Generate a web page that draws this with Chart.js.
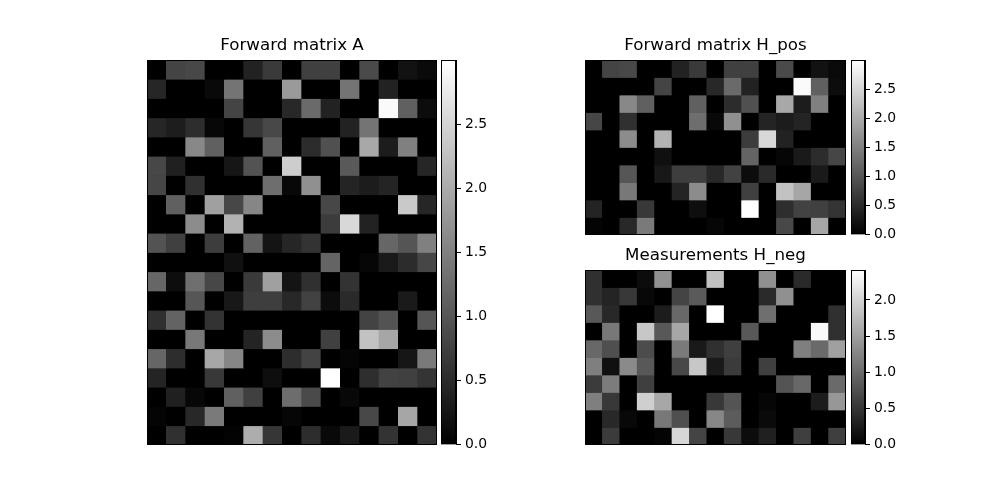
<!DOCTYPE html>
<html>
<head>
<meta charset="utf-8">
<script src="https://cdn.jsdelivr.net/npm/chart.js@4.4.1/dist/chart.umd.min.js"></script>
<style>
  body { margin: 0; background: #fff; }
  #page { position: relative; width: 1000px; height: 500px; }
  .box { position: absolute; }
</style>
</head>
<body>
<div id="page">
  <div class="box" style="left:147px;top:36px;width:290px;height:409px"><canvas id="map-a"></canvas></div>
  <div class="box" style="left:441px;top:48px;width:60px;height:409px"><canvas id="cb-a"></canvas></div>
  <div class="box" style="left:585px;top:36px;width:261px;height:199px"><canvas id="map-pos"></canvas></div>
  <div class="box" style="left:851px;top:48px;width:59px;height:199px"><canvas id="cb-pos"></canvas></div>
  <div class="box" style="left:585px;top:246px;width:261px;height:199px"><canvas id="map-neg"></canvas></div>
  <div class="box" style="left:851px;top:258px;width:59px;height:199px"><canvas id="cb-neg"></canvas></div>
</div>
<script>
const FONT = "'DejaVu Sans', sans-serif";

const cols = [0, 1, 2, 3, 4, 5, 6, 7, 8, 9, 10, 11, 12, 13, 14];

// rows of H_pos (every other row of A, starting at 0)
const hPos = [
  [0, 0.80, 0.85, 0, 0, 0.40, 0.68, 0, 0.75, 0.75, 0, 0.87, 0, 0.21, 0.12],
  [0, 0, 0, 0, 0.80, 0, 0, 0.47, 1.25, 0.40, 0, 0, 2.94, 1.13, 0.14],
  [0, 0, 1.60, 1.13, 0, 0, 1.13, 0, 0.52, 0.94, 0, 1.98, 0.33, 1.51, 0],
  [0.82, 0, 0.56, 0, 0, 0, 1.29, 0.09, 1.69, 0, 0.42, 0.33, 0.42, 0, 0],
  [0, 0, 1.65, 0, 2.09, 0, 0, 0, 0, 0.70, 2.54, 0.40, 0, 0, 0],
  [0, 0, 0, 0, 0.19, 0, 0, 0, 0, 1.18, 0, 0.07, 0.30, 0.52, 0.82],
  [0, 0, 1.01, 0, 0.28, 0.73, 0.73, 0.47, 0.78, 0.14, 0.49, 0, 0, 0.30, 0],
  [0, 0, 1.41, 0, 0, 0.42, 1.65, 0, 0, 0.75, 0, 2.28, 1.95, 0, 0],
  [0.42, 0, 0, 0.66, 0, 0, 0.16, 0, 0, 3.00, 0, 0.54, 0.78, 0.75, 0.61],
  [0.05, 0, 0.47, 1.44, 0, 0, 0, 0.07, 0, 0, 0, 0.85, 0, 1.95, 0],
];

// rows of H_neg (the odd rows of A)
const hNeg = [
  [0.45, 0, 0, 0.11, 1.36, 0, 0, 1.81, 0, 0, 1.36, 0, 0.40, 0, 0],
  [0.45, 0.34, 0.53, 0.08, 0, 0.64, 0.85, 0, 0, 0, 0.40, 1.36, 0, 0, 0],
  [0.83, 0.38, 0, 0, 0.26, 0.98, 0, 2.41, 0, 0, 1.05, 0, 0, 0, 0.45],
  [0, 1.13, 0, 1.88, 0.83, 1.58, 0, 0, 0, 0.83, 0, 0, 0, 2.36, 0.45],
  [0.98, 0.75, 0, 0.72, 0, 1.15, 0.24, 0.45, 0.60, 0, 0, 0, 1.20, 1.00, 1.51],
  [1.20, 0.15, 1.30, 0.83, 0, 0.68, 1.88, 0.24, 0.56, 0, 0.60, 0, 0, 0, 0],
  [0.56, 1.17, 0, 0.60, 0, 0, 0, 0, 0, 0, 0, 0.79, 0.98, 0, 1.00],
  [1.20, 0.53, 0, 1.96, 1.58, 0, 0, 0.53, 0.79, 0, 0.06, 0, 0, 0.26, 1.43],
  [0, 0.38, 0.08, 0, 1.13, 0.75, 0, 1.28, 0.87, 0, 0.09, 0, 0, 0, 0],
  [0, 0.56, 0, 0, 0.04, 2.03, 0.64, 0, 0.53, 0.11, 0.30, 0, 0.60, 0, 0.60],
];

// A stacks the two, interleaved row by row
const matA = hPos.flatMap((row, i) => [row, hNeg[i]]);

const ticksA = [0, 0.5, 1.0, 1.5, 2.0, 2.5];
const ticksPos = [0, 0.5, 1.0, 1.5, 2.0, 2.5];
const ticksNeg = [0, 0.5, 1.0, 1.5, 2.0];

function grayOf(v, vmax) {
  const g = Math.round(255 * v / vmax);
  return `rgb(${g},${g},${g})`;
}

const blackBg = {
  id: "blackBg",
  beforeDatasetsDraw(chart) {
    const a = chart.chartArea;
    chart.ctx.save();
    chart.ctx.fillStyle = "#000";
    chart.ctx.fillRect(a.left, a.top, a.right - a.left, a.bottom - a.top);
    chart.ctx.restore();
  },
};

const frame = {
  id: "frame",
  afterDraw(chart) {
    const a = chart.chartArea;
    const ctx = chart.ctx;
    ctx.save();
    ctx.strokeStyle = "#000";
    ctx.lineWidth = 1;
    ctx.strokeRect(Math.round(a.left) + 0.5, Math.round(a.top) + 0.5,
      Math.round(a.right - a.left) - 1, Math.round(a.bottom - a.top) - 1);
    ctx.restore();
  },
};

function heatmap(id, title, matrix) {
  const vmax = Math.max(...matrix.flat());
  const datasets = matrix.map((row) => ({
    data: row.map(() => 1),
    backgroundColor: row.map((v) => grayOf(v, vmax)),
    borderWidth: 0,
    barPercentage: 1,
    categoryPercentage: 1,
  }));
  new Chart(document.getElementById(id), {
    type: "bar",
    data: { labels: cols, datasets },
    options: {
      animation: false,
      responsive: true,
      maintainAspectRatio: false,
      layout: { padding: 0 },
      plugins: {
        legend: { display: false },
        tooltip: { enabled: false },
        title: {
          display: true,
          text: title,
          color: "#000",
          font: { family: FONT, size: 16.7, weight: "normal" },
          padding: { top: 0, bottom: 4 },
        },
      },
      scales: {
        x: { display: false, stacked: true },
        y: { display: false, stacked: true, min: 0, max: matrix.length, reverse: true },
      },
    },
    plugins: [blackBg, frame],
  });
  return vmax;
}

function colorbar(id, vmax, ticks) {
  new Chart(document.getElementById(id), {
    type: "bar",
    data: {
      labels: ["cb"],
      datasets: [{
        data: [[0, vmax]],
        backgroundColor: (c) => {
          const a = c.chart.chartArea;
          if (!a) return "#000";
          const g = c.chart.ctx.createLinearGradient(0, a.bottom, 0, a.top);
          g.addColorStop(0, "#000");
          g.addColorStop(1, "#fff");
          return g;
        },
        borderWidth: 0,
        barPercentage: 1,
        categoryPercentage: 1,
      }],
    },
    options: {
      animation: false,
      responsive: true,
      maintainAspectRatio: false,
      layout: { padding: { top: 12, bottom: 12, left: 0, right: 0 } },
      plugins: { legend: { display: false }, tooltip: { enabled: false } },
      scales: {
        x: { display: false },
        y: {
          position: "right",
          min: 0,
          max: vmax,
          afterFit: (s) => { s.width = 45; },
          afterBuildTicks: (s) => { s.ticks = ticks.map((v) => ({ value: v })); },
          ticks: {
            color: "#000",
            font: { family: FONT, size: 13.9 },
            padding: 4,
            callback: (v) => Number(v).toFixed(1),
          },
          grid: { display: true, drawOnChartArea: false, drawTicks: true, tickLength: 5, color: "#000" },
          border: { display: true, color: "#000" },
        },
      },
    },
    plugins: [frame],
  });
}

const vmaxA = heatmap("map-a", "Forward matrix A", matA);
colorbar("cb-a", vmaxA, ticksA);
const vmaxPos = heatmap("map-pos", "Forward matrix H_pos", hPos);
colorbar("cb-pos", vmaxPos, ticksPos);
const vmaxNeg = heatmap("map-neg", "Measurements H_neg", hNeg);
colorbar("cb-neg", vmaxNeg, ticksNeg);
</script>
</body>
</html>
